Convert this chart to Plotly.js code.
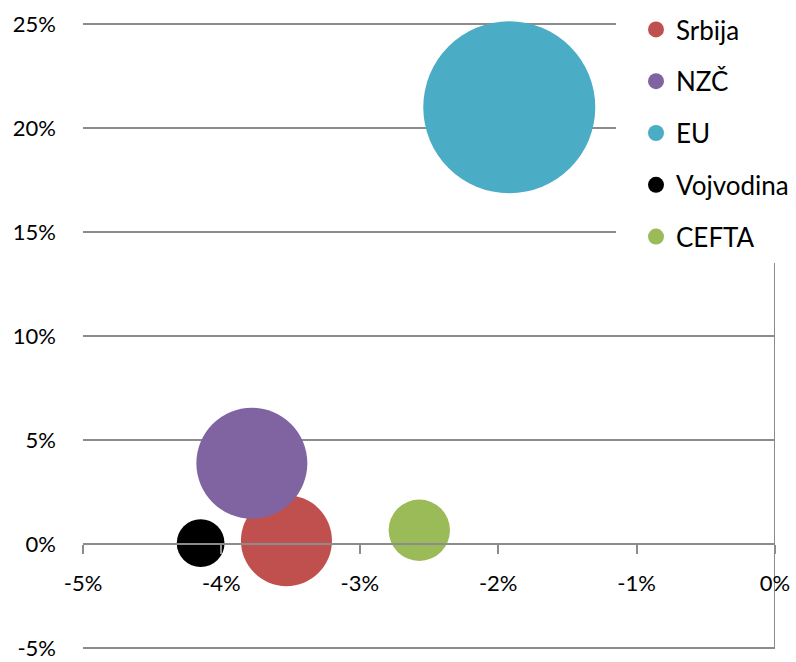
<!DOCTYPE html>
<html>
<head>
<meta charset="utf-8">
<script src="https://cdn.plot.ly/plotly-3.0.1.min.js"></script>
<style>html,body{margin:0;padding:0;background:#fff;}#chart{width:796px;height:662px;}</style>
</head>
<body>
<div id="chart"></div>
<script>
// Series (x = % change, y = %, size = bubble value)
var names  = ['Srbija', 'NZČ', 'EU', 'Vojvodina', 'CEFTA'];
var xVals  = [-3.53, -3.78, -1.92, -4.15, -2.57];
var yVals  = [0.16, 3.88, 21.0, 0.04, 0.66];
var sizes  = [58.8, 87.4, 210, 16.2, 26.7];
var colors = ['#C0504D', '#8064A2', '#4BACC6', '#000000', '#9BBB59'];

var xTickVals = [-5, -4, -3, -2, -1, 0];
var xTickText = ['-5%', '-4%', '-3%', '-2%', '-1%', '0%'];
var yTickVals = [-5, 0, 5, 10, 15, 20, 25];
var yTickText = ['-5%', '0%', '5%', '10%', '15%', '20%', '25%'];

var xRange = [-5, 0];
var yMin = -5, yMax = 25, yPad = 0.05;
var yRange = [yMin - yPad, yMax + yPad];
var maxDiameter = 172;
var sizeref = 2 * Math.max.apply(null, sizes) / (maxDiameter * maxDiameter);

var traces = names.map(function (n, i) {
  return {
    type: 'scatter', mode: 'markers', name: n, legendgroup: 'g' + i,
    x: [xVals[i]], y: [yVals[i]], cliponaxis: false,
    marker: { size: [sizes[i]], sizemode: 'area', sizeref: sizeref,
              color: colors[i], opacity: 1, line: { width: 0 } }
  };
});

var gridColor = '#8c8c8c';
var tickFont = { family: 'Lato, sans-serif', size: 22, color: '#000' };
var legendFont = { family: 'Lato, sans-serif', size: 26, color: '#000' };

var mT = 23, mB = 13;
var plotH = 662 - mT - mB;

var layout = {
  width: 796, height: 662,
  margin: { l: 83, r: 21, t: mT, b: mB, autoexpand: false },
  paper_bgcolor: '#fff', plot_bgcolor: '#fff',
  font: tickFont,
  showlegend: true,
  legend: {
    x: (636 - 83) / 692, xanchor: 'left',
    y: 1 + 17 / plotH, yanchor: 'top',
    bgcolor: 'rgba(0,0,0,0)', borderwidth: 0,
    font: legendFont, tracegroupgap: 15, itemsizing: 'trace'
  },
  xaxis: {
    range: xRange, tickvals: xTickVals, ticktext: xTickText,
    anchor: 'free', position: (0 - yRange[0]) / (yRange[1] - yRange[0]),
    showgrid: false, zeroline: false,
    showline: true, linecolor: gridColor, linewidth: 2,
    ticks: 'outside', ticklen: 9, tickwidth: 2, tickcolor: gridColor,
    ticklabelstandoff: 11, tickfont: tickFont
  },
  yaxis: {
    range: yRange, tickvals: yTickVals, ticktext: yTickText,
    showgrid: true, gridcolor: gridColor, gridwidth: 1.5,
    zeroline: false, showline: false, ticks: '',
    ticklabelstandoff: 26, tickfont: tickFont
  },
  shapes: [
    { type: 'line', xref: 'x', yref: 'y', x0: 0, x1: 0, y0: yMin, y1: yMax,
      line: { color: gridColor, width: 2 }, layer: 'below' },
    // white legend box
    { type: 'rect', xref: 'paper', yref: 'paper',
      x0: (616 - 83) / 692, x1: 1.1, y0: (649 - 263) / plotH, y1: 1.1,
      fillcolor: '#fff', line: { width: 0 }, layer: 'above' }
  ]
};

Plotly.newPlot('chart', traces, layout, { displayModeBar: false, staticPlot: true });
</script>
</body>
</html>
